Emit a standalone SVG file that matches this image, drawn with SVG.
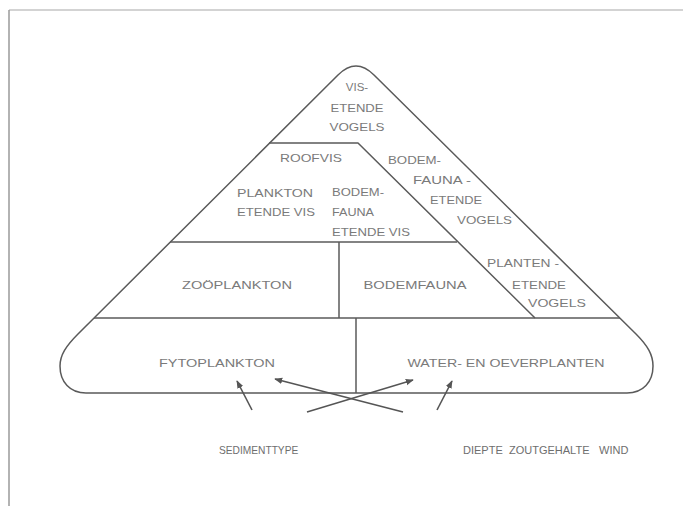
<svg xmlns="http://www.w3.org/2000/svg" width="683" height="506" viewBox="0 0 683 506">
<style>
.ln{fill:none;stroke:#5a5a5a;stroke-width:1.5;stroke-linejoin:round}
.t{font-family:"Liberation Sans","Open Sans",sans-serif;font-size:11.5px;fill:#7a7a7a;text-anchor:middle}
.tl{font-family:"Liberation Sans","Open Sans",sans-serif;font-size:11.5px;fill:#7a7a7a;text-anchor:start}
.b{font-family:"Liberation Sans","Open Sans",sans-serif;font-size:11px;fill:#6e6e6e;text-anchor:start}
.ar{fill:none;stroke:#555;stroke-width:1.6;marker-end:url(#ah)}
</style>
<defs>
<marker id="ah" viewBox="0 0 10 10" refX="9" refY="5" markerWidth="5" markerHeight="5" orient="auto" markerUnits="strokeWidth">
<path d="M0,1 L10,5 L0,9 z" fill="#555"/>
</marker>
</defs>
<rect width="683" height="506" fill="#fff"/>
<g id="frame">
<path d="M9,10 H683" stroke="#c4c4c4" stroke-width="1.5" fill="none"/>
<path d="M9,10 V506" stroke="#9a9a9a" stroke-width="1.5" fill="none"/>
</g>
<g id="pyramid">
<path class="ln" d="M78,334 L338,75 Q356,57 374,75 L636,334 C648,346 653,355 653,366 C653,382 643,393 627,393 L86,393 C70,393 60,382 60,366 C60,355 66,346 78,334 Z"/>
<path class="ln" d="M269,143 H358 L535,318"/>
<path class="ln" d="M170,242 H457"/>
<path class="ln" d="M339,242 V318"/>
<path class="ln" d="M94,318 H620"/>
<path class="ln" d="M356,318 V393"/>
</g>
<g id="vis-etende-vogels">
<text class="t" x="357" y="91">VIS-</text>
<text class="t" x="357" y="112" textLength="53" lengthAdjust="spacingAndGlyphs">ETENDE</text>
<text class="t" x="357" y="131" textLength="55" lengthAdjust="spacingAndGlyphs">VOGELS</text>
</g>
<g id="roofvis">
<text class="t" x="311" y="162" textLength="62" lengthAdjust="spacingAndGlyphs">ROOFVIS</text>
</g>
<g id="plankton-etende-vis">
<text class="t" x="275" y="197" textLength="76" lengthAdjust="spacingAndGlyphs">PLANKTON</text>
<text class="t" x="276" y="216" textLength="78" lengthAdjust="spacingAndGlyphs">ETENDE VIS</text>
</g>
<g id="bodemfauna-etende-vis">
<text class="tl" x="332" y="196" textLength="52" lengthAdjust="spacingAndGlyphs">BODEM-</text>
<text class="tl" x="332" y="216" textLength="42" lengthAdjust="spacingAndGlyphs">FAUNA</text>
<text class="tl" x="332" y="236" textLength="78" lengthAdjust="spacingAndGlyphs">ETENDE VIS</text>
</g>
<g id="bodemfauna-etende-vogels">
<text class="tl" x="388" y="164" textLength="53" lengthAdjust="spacingAndGlyphs">BODEM-</text>
<text class="tl" x="413" y="184" textLength="58" lengthAdjust="spacingAndGlyphs">FAUNA -</text>
<text class="tl" x="430" y="204" textLength="52" lengthAdjust="spacingAndGlyphs">ETENDE</text>
<text class="tl" x="457" y="224" textLength="55" lengthAdjust="spacingAndGlyphs">VOGELS</text>
</g>
<g id="plantenetende-vogels">
<text class="tl" x="487" y="267" textLength="72" lengthAdjust="spacingAndGlyphs">PLANTEN -</text>
<text class="tl" x="512" y="289" textLength="54" lengthAdjust="spacingAndGlyphs">ETENDE</text>
<text class="tl" x="528" y="307" textLength="58" lengthAdjust="spacingAndGlyphs">VOGELS</text>
</g>
<g id="zooplankton">
<text class="t" x="237" y="289" textLength="110" lengthAdjust="spacingAndGlyphs">ZOÖPLANKTON</text>
</g>
<g id="bodemfauna">
<text class="t" x="415" y="289" textLength="103" lengthAdjust="spacingAndGlyphs">BODEMFAUNA</text>
</g>
<g id="fytoplankton">
<text class="t" x="217" y="367" textLength="116" lengthAdjust="spacingAndGlyphs">FYTOPLANKTON</text>
</g>
<g id="water-en-oeverplanten">
<text class="t" x="506" y="367" textLength="197" lengthAdjust="spacingAndGlyphs">WATER- EN OEVERPLANTEN</text>
</g>
<g id="connectors">
<path class="ar" d="M252,410 L237,381"/>
<path class="ar" d="M307,412 L413,380"/>
<path class="ar" d="M403,412 L275,379"/>
<path class="ar" d="M437,410 L452,381"/>
</g>
<g id="factors">
<text class="b" x="219" y="454" style="font-size:10.2px">SEDIMENTTYPE</text>
<text class="b" x="463" y="454">DIEPTE</text>
<text class="b" x="509" y="454">ZOUTGEHALTE</text>
<text class="b" x="599" y="454">WIND</text>
</g>
</svg>
